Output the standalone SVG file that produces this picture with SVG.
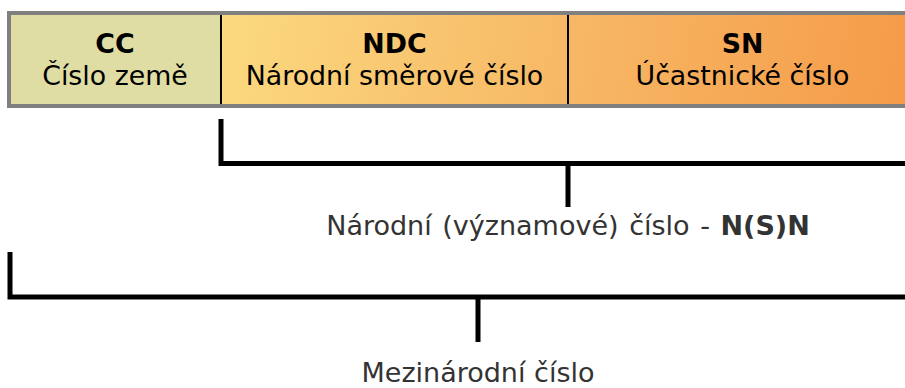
<svg xmlns="http://www.w3.org/2000/svg" width="905" height="388" viewBox="0 0 905 388">
  <defs>
    <linearGradient id="grad" gradientUnits="userSpaceOnUse" x1="221" y1="13" x2="917" y2="106">
      <stop offset="0" stop-color="#fbd97f"/>
      <stop offset="0.5" stop-color="#f7b865"/>
      <stop offset="1" stop-color="#f59a48"/>
    </linearGradient>
  </defs>
  <style>
    .lbl { font-family: "DejaVu Sans", Verdana, sans-serif; font-size: 26.8px; fill: #000; text-anchor: middle; }
    .b { font-weight: bold; }
    .sub { font-family: "DejaVu Sans", Verdana, sans-serif; font-size: 27px; fill: #333; text-anchor: middle; }
    .div { stroke: #000; stroke-width: 2; }
    .br { fill: none; stroke: #000; stroke-width: 5; }
  </style>
  <g id="bar">
    <rect x="221" y="13" width="700" height="93" fill="url(#grad)"/>
    <rect x="9" y="13" width="212" height="93" fill="#dfdda3"/>
    <rect x="9" y="13" width="912" height="93" fill="none" stroke="#808080" stroke-width="4"/>
  </g>
  <g id="cc">
    <line class="div" x1="221" y1="15" x2="221" y2="104"/>
    <text class="lbl b" x="115" y="53">CC</text>
    <text class="lbl" x="115" y="85">Číslo země</text>
  </g>
  <g id="ndc">
    <line class="div" x1="568" y1="15" x2="568" y2="104"/>
    <text class="lbl b" x="394.5" y="53">NDC</text>
    <text class="lbl" x="394.5" y="85">Národní směrové číslo</text>
  </g>
  <g id="sn">
    <text class="lbl b" x="742.5" y="53">SN</text>
    <text class="lbl" x="742.5" y="85">Účastnické číslo</text>
  </g>
  <g id="connectors">
    <path class="br" d="M221,119 V163.5 H910"/>
    <path class="br" d="M568,163.5 V207"/>
    <path class="br" d="M10,252 V297 H910"/>
    <path class="br" d="M478,297 V342"/>
  </g>
  <g id="nsn">
    <text class="sub" x="568" y="235" word-spacing="2">Národní (významové) číslo - <tspan font-weight="bold">N(S)N</tspan></text>
  </g>
  <g id="intl">
    <text class="sub" x="478" y="382">Mezinárodní číslo</text>
  </g>
</svg>
